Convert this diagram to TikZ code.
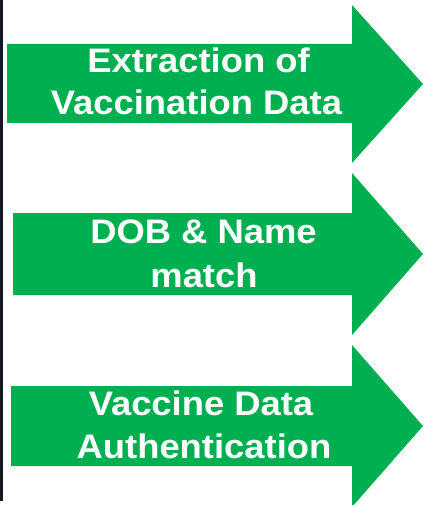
\documentclass[tikz,border=0pt]{standalone}
\usepackage{fontspec}
\setmainfont{Liberation Sans}[FakeStretch=1.07]
\definecolor{arrowgreen}{HTML}{00B050}
\definecolor{edgeline}{HTML}{141824}
\begin{document}
\begin{tikzpicture}[x=1pt,y=-1pt,
  greenarrow/.style={fill=arrowgreen,draw=none},
  label/.style={anchor=base,inner sep=0pt,text=white,font=\fontsize{34}{40}\selectfont\bfseries}]
\useasboundingbox (0,0) rectangle (423,505);
% left edge line
\fill[edgeline] (0,0) rectangle (2.6,501);
% arrow 1
\fill[greenarrow] (7,44) -- (352,44) -- (352,5) -- (423,84) -- (352,163) -- (352,123) -- (7,123) -- cycle;
% arrow 2
\fill[greenarrow] (13,213) -- (352,213) -- (352,173) -- (423,254) -- (352,335) -- (352,295) -- (13,295) -- cycle;
% arrow 3
\fill[greenarrow] (11,386) -- (352,386) -- (352,345) -- (423,426) -- (352,507) -- (352,466) -- (11,466) -- cycle;
% labels
\node[label] (a1l1) at (198.5,73) {Extraction of};
\node[label] (a1l2) at (196.5,115) {Vaccination Data};
\node[label] (a2l1) at (203.5,243) {DOB \& Name};
\node[label] (a2l2) at (204,287) {match};
\node[label] (a3l1) at (201,415) {Vaccine Data};
\node[label] (a3l2) at (204,458) {Authentication};
\end{tikzpicture}
\end{document}
